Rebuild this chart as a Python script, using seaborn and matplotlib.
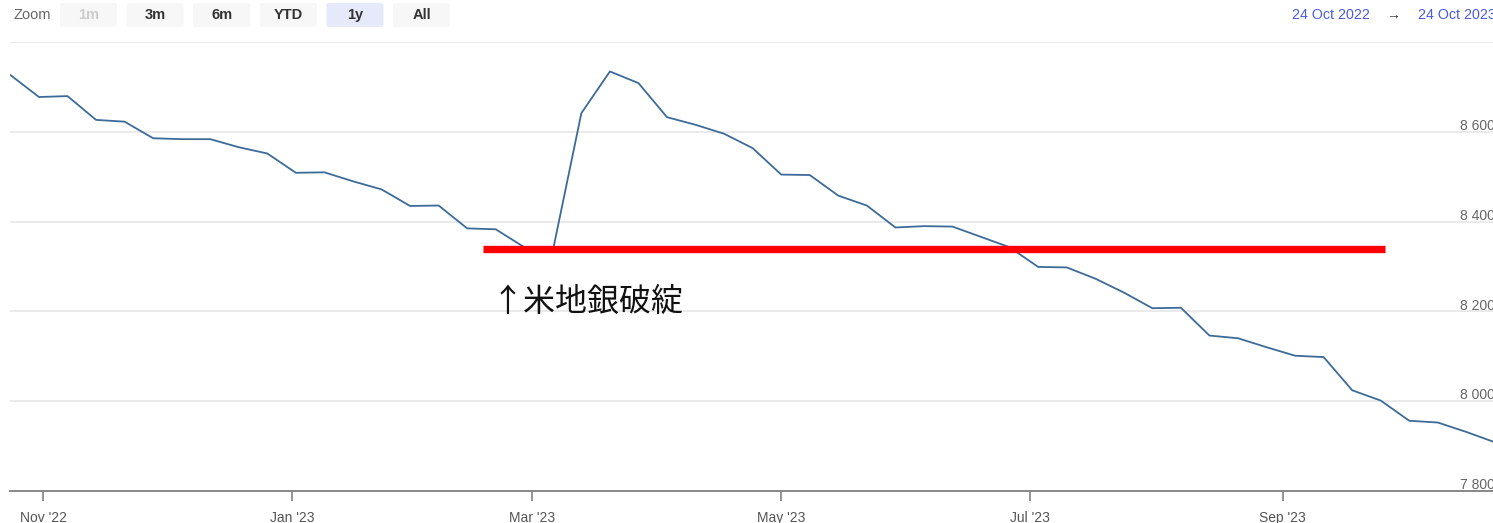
import seaborn as sns
import matplotlib.pyplot as plt
from matplotlib.patches import FancyBboxPatch
import pandas as pd

sns.set_theme(style="white")
plt.rcParams['font.family'] = ['Liberation Sans', 'Noto Sans CJK JP', 'DejaVu Sans']

# weekly values, 24 Oct 2022 -> 23 Oct 2023
start_date = '2022-10-24'
values = [8727, 8678, 8680, 8627, 8623, 8586, 8584, 8584, 8566, 8552,
          8509, 8510, 8490, 8472, 8435, 8436, 8385, 8383, 8343, 8335,
          8642, 8735, 8709, 8633, 8616, 8596, 8564, 8505, 8504, 8458,
          8436, 8387, 8390, 8389, 8366, 8343, 8299, 8298, 8273, 8242,
          8207, 8208, 8146, 8140, 8120, 8101, 8098, 8024, 8001, 7956,
          7952, 7931, 7908]

x_ticks = ['2022-11-01', '2023-01-01', '2023-03-01', '2023-05-01', '2023-07-01', '2023-09-01']
x_labels = ["Nov '22", "Jan '23", "Mar '23", "May '23", "Jul '23", "Sep '23"]
y_ticks = [7800, 8000, 8200, 8400, 8600, 8800]
y_labels = ['7 800', '8 000', '8 200', '8 400', '8 600']

# red marker line and note
red_level = 8339
red_start, red_end = '2023-02-17', '2023-09-26'
note_text = '↑米地銀破綻'
note_date, note_level = '2023-02-19', 8222

buttons = ['1m', '3m', '6m', 'YTD', '1y', 'All']
range_from, range_to = '24 Oct 2022', '24 Oct 2023'

df = pd.DataFrame({'date': pd.date_range(start_date, periods=len(values), freq='7D'),
                   'value': values})

W, H = 1493, 523
fig = plt.figure(figsize=(W / 100, H / 100), dpi=100)

def fx(px):
    return px / W

def fy(py):
    return 1 - py / H

ax = fig.add_axes([fx(10.4), fy(490.7), fx(1499) - fx(10.4), fy(42.3) - fy(490.7)])

sns.lineplot(data=df, x='date', y='value', ax=ax, color='#3d6b99', linewidth=1.3)

ax.hlines(red_level, pd.Timestamp(red_start), pd.Timestamp(red_end), color='#ff0000', linewidth=5.3, zorder=5)
ax.text(pd.Timestamp(note_date), note_level, note_text, fontsize=23, color='#111111',
        ha='left', va='center', family=['Noto Sans CJK JP', 'DejaVu Sans'])

ax.set_xlim(pd.Timestamp('2022-10-24'), pd.Timestamp('2023-10-24'))
ax.set_ylim(7800, 8800)
ax.set_yticks(y_ticks)
ax.yaxis.grid(True, color='#e6e6e6', linewidth=1.2)
ax.tick_params(axis='y', length=0, labelleft=False)
for v, lab in zip(y_ticks, y_labels):
    ax.annotate(lab, xy=(1, v), xycoords=('axes fraction', 'data'), xytext=(-3, 4),
                textcoords='offset points', ha='right', va='center', fontsize=10, color='#666666')

ax.set_xticks([pd.Timestamp(d) for d in x_ticks])
ax.set_xticklabels(x_labels, fontsize=10, color='#555555')
ax.tick_params(axis='x', direction='out', length=7.5, width=1.1, color='#777777', pad=7, bottom=True)
ax.set_xlabel('')
ax.set_ylabel('')
for s in ['top', 'left', 'right']:
    ax.spines[s].set_visible(False)
ax.spines['bottom'].set_color('#888888')
ax.spines['bottom'].set_linewidth(1.4)

# range selector row
fig.text(fx(13), fy(15), 'Zoom', fontsize=10.5, color='#666666', va='center', ha='left')
for i, b in enumerate(buttons):
    x0 = 60 + i * 66.6
    sel = b == '1y'
    fig.patches.append(FancyBboxPatch((fx(x0), fy(27)), fx(57), fy(3) - fy(27),
                                      boxstyle='round,pad=0,rounding_size=0.003',
                                      transform=fig.transFigure, facecolor='#e6e9fa' if sel else '#f7f7f7',
                                      edgecolor='none'))
    fig.text(fx(x0 + 28.5), fy(15), b, fontsize=10.5, ha='center', va='center',
             color='#cccccc' if b == '1m' else '#333333', fontweight='bold')

fig.text(fx(1292), fy(15), range_from, fontsize=10.3, color='#4a5be0', va='center', ha='left')
fig.text(fx(1393), fy(15), '→', fontsize=10, color='#333333', va='center', ha='center')
fig.text(fx(1418), fy(15), range_to, fontsize=10.3, color='#4a5be0', va='center', ha='left')

fig.savefig('out.png', dpi=100)
